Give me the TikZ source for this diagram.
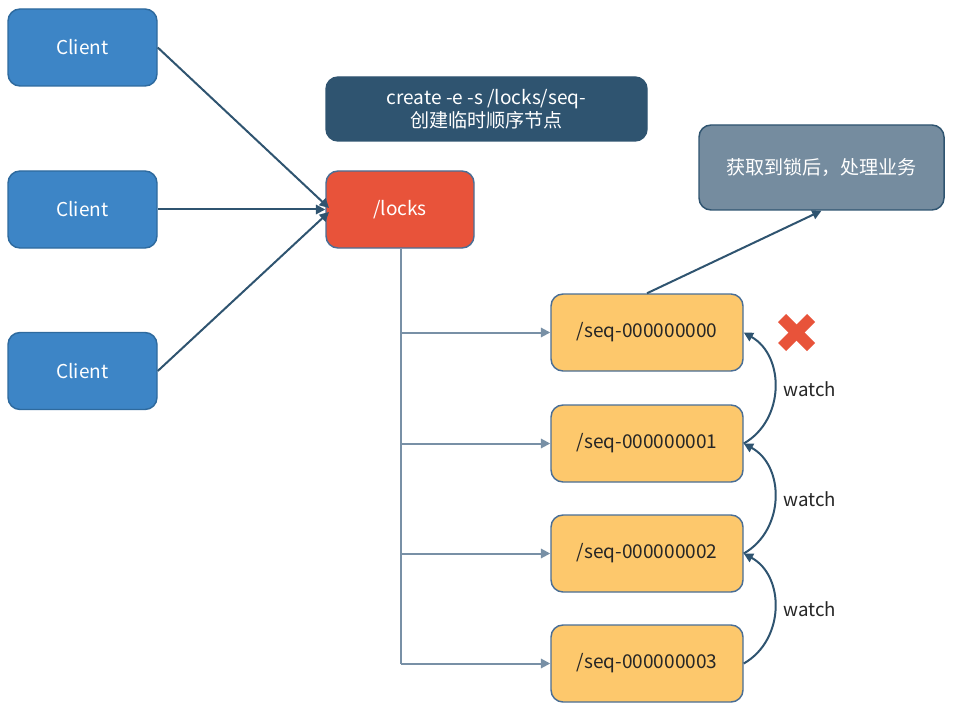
\documentclass[tikz,border=0pt]{standalone}
\usepackage{fontspec}
\setmainfont{Noto Sans CJK SC}
\usetikzlibrary{arrows.meta,calc}
\definecolor{cblue}{HTML}{3D85C6}
\definecolor{cblueb}{HTML}{2E6A9E}
\definecolor{dark}{HTML}{2F5470}
\definecolor{lockred}{HTML}{E8533A}
\definecolor{greyb}{HTML}{758C9F}
\definecolor{seqy}{HTML}{FDC86C}
\definecolor{seqb}{HTML}{4A6E95}
\definecolor{treel}{HTML}{7890A6}
\begin{document}
\begin{tikzpicture}[x=0.75pt,y=-0.75pt,
  box/.style={rounded corners=9pt,line width=1.1pt,inner sep=0pt,font=\fontsize{14.3}{17.5}\selectfont,align=center},
  client/.style={box,fill=cblue,draw=cblueb,text=white,minimum width=111.75pt,minimum height=57.75pt},
  seqbox/.style={box,fill=seqy,draw=seqb,text=black!85,minimum width=144pt,minimum height=57.75pt},
  conn/.style={draw=dark,line width=1.5pt,-{Triangle[length=7pt,width=7pt]}},
  tree/.style={draw=treel,line width=1.5pt,-{Triangle[length=7pt,width=7pt]}},
  watcharc/.style={draw=dark,line width=1.5pt,-{Triangle[length=7pt,width=7pt]}},
  lbl/.style={font=\fontsize{14}{17}\selectfont,text=black!85}
]
\useasboundingbox (0,0) rectangle (955,720);
\node[client] (c1) at (82.5,47.5) {Client};
\node[client] (c2) at (82.5,209.5) {Client};
\node[client] (c3) at (82.5,371) {Client};
\node[box,fill=dark,draw=dark,text=white,minimum width=240.75pt,minimum height=48pt] (cmd) at (486.5,109) {create -e -s /locks/seq-\\创建临时顺序节点};
\node[box,fill=lockred,draw=seqb,text=white,minimum width=111pt,minimum height=57.75pt] (locks) at (400,209.5) {/locks};
\node[box,fill=greyb,draw=dark,text=white,minimum width=183.75pt,minimum height=63.75pt] (biz) at (821.5,167.5) {获取到锁后，处理业务};
\node[seqbox] (s0) at (647,332.5) {/seq-000000000};
\node[seqbox] (s1) at (647,443.5) {/seq-000000001};
\node[seqbox] (s2) at (647,553.5) {/seq-000000002};
\node[seqbox] (s3) at (647,663.5) {/seq-000000003};
\coordinate (in1) at (329,208);
\coordinate (in3) at (329,212);
\draw[conn] (c1.east) -- (in1);
\draw[conn] (c2.east) -- (locks.west);
\draw[conn] (c3.east) -- (in3);
\coordinate (tt) at (401,248);
\coordinate (tb) at (401,663.5);
\draw[treel,line width=1.5pt] (locks.south -| tt) -- (tb);
\draw[tree] (s0.west -| tt) -- (s0.west);
\draw[tree] (s1.west -| tt) -- (s1.west);
\draw[tree] (s2.west -| tt) -- (s2.west);
\draw[tree] (s3.west -| tt) -- (s3.west);
\draw[conn] (s0.north) -- (biz.south);
\draw[watcharc] (s1.east) .. controls (785,420) and (785,356) .. (s0.east);
\draw[watcharc] (s2.east) .. controls (785,530) and (785,466) .. (s1.east);
\draw[watcharc] (s3.east) .. controls (785,640) and (785,576) .. (s2.east);
\node[lbl] (w1) at (810,389) {watch};
\node[lbl] (w2) at (810,499) {watch};
\node[lbl] (w3) at (810,609) {watch};
\coordinate (x0) at (796.5,332.5);
\draw[lockred,line width=8.5pt] ($(x0)+(-14.5,-14.5)$) -- ($(x0)+(14.5,14.5)$);
\draw[lockred,line width=8.5pt] ($(x0)+(-14.5,14.5)$) -- ($(x0)+(14.5,-14.5)$);
\end{tikzpicture}
\end{document}
